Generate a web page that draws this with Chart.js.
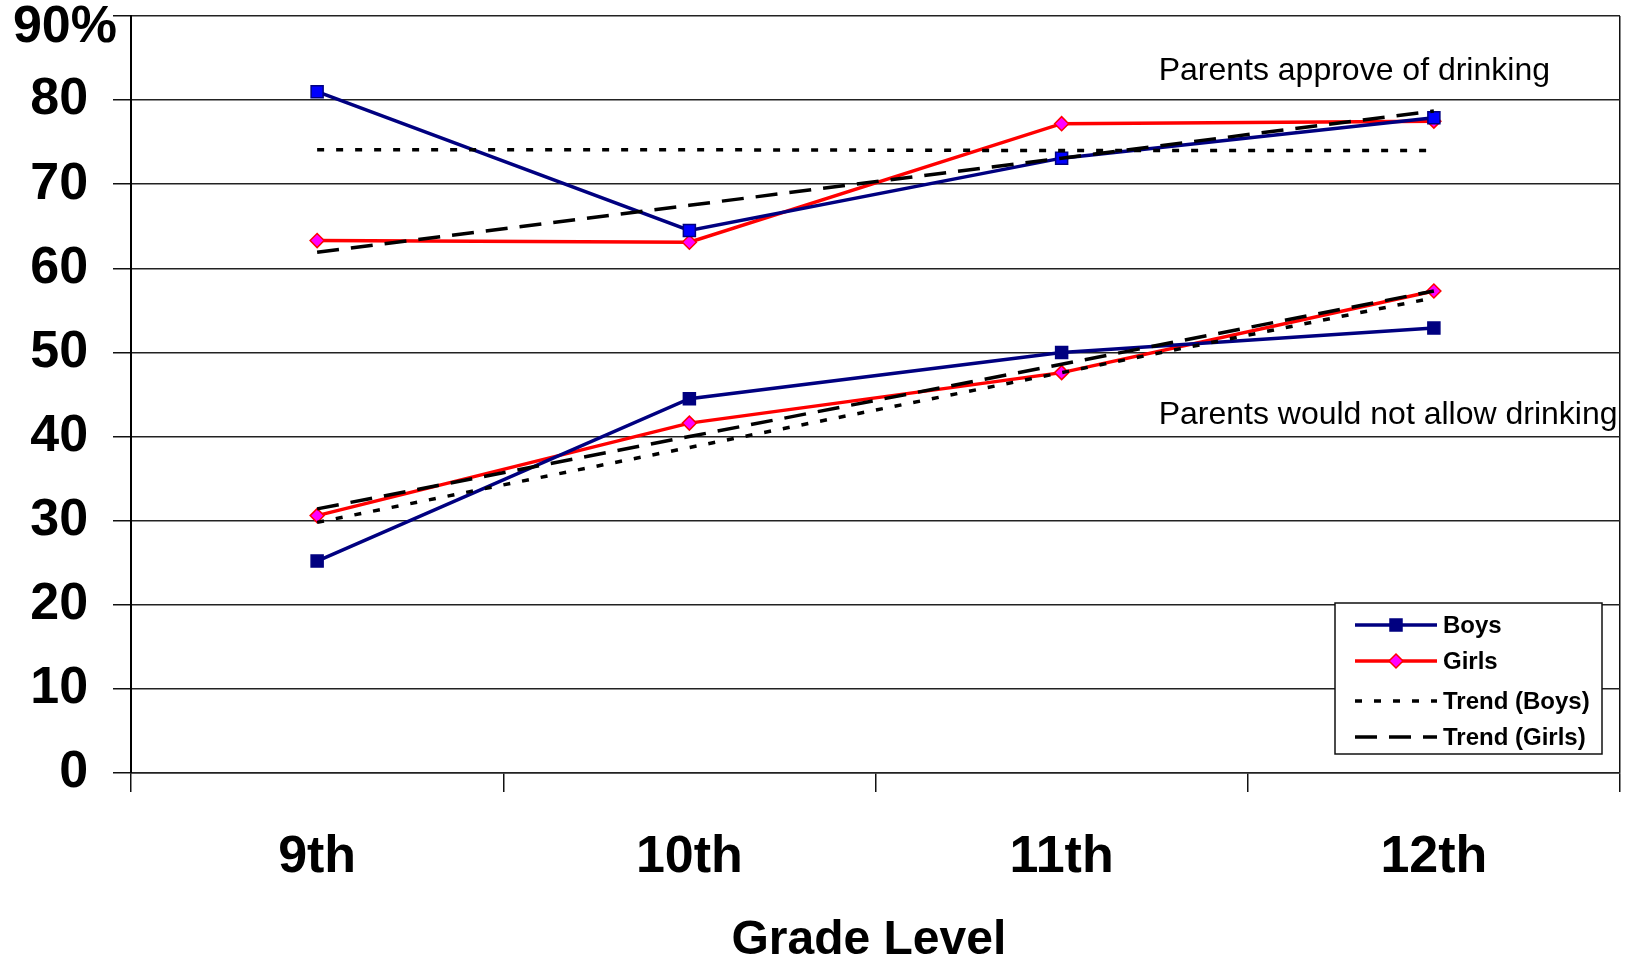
<!DOCTYPE html>
<html><head><meta charset="utf-8">
<script src="https://cdn.jsdelivr.net/npm/chart.js@4/dist/chart.umd.min.js"></script>
<style>html,body{margin:0;padding:0;background:#fff}#wrap{width:1630px;height:960px;position:relative}</style>
</head><body><div id="wrap"><canvas id="c" width="1630" height="960"></canvas></div>
<script>
const grades = ['9th', '10th', '11th', '12th'];
const boysApprove = [81.0, 64.5, 73.1, 77.9];
const girlsApprove = [63.3, 63.1, 77.2, 77.5];
const boysNotAllow = [25.2, 44.5, 50.0, 52.9];
const girlsNotAllow = [30.6, 41.6, 47.6, 57.3];
const trendBoysApprove = [74.1, 74.1, 74.0, 74.0];
const trendGirlsApprove = [61.9, 67.5, 73.1, 78.7];
const trendBoysNotAllow = [29.8, 38.7, 47.6, 56.5];
const trendGirlsNotAllow = [31.4, 40.0, 48.6, 57.3];
const yMin = 0, yMax = 90, yStep = 10;
const legendLabels = ['Boys', 'Girls', 'Trend (Boys)', 'Trend (Girls)'];
const noteApprove = 'Parents approve of drinking';
const noteNotAllow = 'Parents would not allow drinking';
const xTitle = 'Grade Level';

const FONT = '"Liberation Sans", Arial, Helvetica, sans-serif';
const navy = '#000080', blue = '#0000FF', red = '#FF0000', magenta = '#FF00FF';
const DOT = [7, 12], DASH = [22, 12];

function series(label, data, color, fill, border, style, radius) {
  return { label, data, borderColor: color, borderWidth: 3.5, pointStyle: style, pointRadius: radius,
    pointBackgroundColor: fill, pointBorderColor: border, pointBorderWidth: 1.5, tension: 0, fill: false };
}
function trend(label, data, dash) {
  return { label, data, borderColor: '#000', borderWidth: 3.5, borderDash: dash, borderCapStyle: 'butt',
    pointRadius: 0, fill: false, tension: 0 };
}

const notesPlugin = {
  id: 'notes',
  afterDatasetsDraw(chart) {
    const ctx = chart.ctx, sx = chart.scales.x, sy = chart.scales.y;
    ctx.save();
    ctx.font = '32px ' + FONT;
    ctx.fillStyle = '#000';
    ctx.textAlign = 'left';
    ctx.textBaseline = 'middle';
    const x = sx.getPixelForValue(2) + 97;
    ctx.fillText(noteApprove, x, sy.getPixelForValue(83.4));
    ctx.fillText(noteNotAllow, x, sy.getPixelForValue(42.6));
    ctx.restore();
  }
};

const legendPlugin = {
  id: 'boxLegend',
  afterDraw(chart) {
    const ctx = chart.ctx, a = chart.chartArea;
    const x0 = a.right - 285, y0 = a.bottom - 170, w = 267, h = 151;
    ctx.save();
    ctx.fillStyle = '#fff';
    ctx.fillRect(x0, y0, w, h);
    ctx.strokeStyle = '#111';
    ctx.lineWidth = 1.5;
    ctx.strokeRect(x0, y0, w, h);
    const rows = [22, 58, 98, 134];
    const lx0 = x0 + 20, lx1 = x0 + 102, mx = (lx0 + lx1) / 2;
    const styles = [
      { c: navy, dash: [], lw: 3.5 },
      { c: red, dash: [], lw: 3.5 },
      { c: '#000', dash: DOT, lw: 3.5 },
      { c: '#000', dash: DASH, lw: 3.5 }
    ];
    rows.forEach((dy, i) => {
      const y = y0 + dy, s = styles[i];
      ctx.beginPath();
      ctx.setLineDash(s.dash);
      ctx.strokeStyle = s.c;
      ctx.lineWidth = s.lw;
      ctx.moveTo(lx0, y); ctx.lineTo(lx1, y);
      ctx.stroke();
      ctx.setLineDash([]);
      if (i === 0) {
        ctx.fillStyle = navy; ctx.strokeStyle = navy; ctx.lineWidth = 1.5;
        ctx.fillRect(mx - 6, y - 6, 12, 12); ctx.strokeRect(mx - 6, y - 6, 12, 12);
      } else if (i === 1) {
        ctx.beginPath();
        ctx.moveTo(mx, y - 7); ctx.lineTo(mx + 7, y); ctx.lineTo(mx, y + 7); ctx.lineTo(mx - 7, y); ctx.closePath();
        ctx.fillStyle = magenta; ctx.fill(); ctx.strokeStyle = red; ctx.lineWidth = 1.5; ctx.stroke();
      }
      ctx.font = 'bold 24px ' + FONT;
      ctx.fillStyle = '#000';
      ctx.textAlign = 'left';
      ctx.textBaseline = 'middle';
      ctx.fillText(legendLabels[i], x0 + 108, y + 1);
    });
    ctx.restore();
  }
};

new Chart(document.getElementById('c'), {
  type: 'line',
  data: {
    labels: grades,
    datasets: [
      trend('Trend (Boys) approve', trendBoysApprove, DOT),
      trend('Trend (Girls) approve', trendGirlsApprove, DASH),
      trend('Trend (Boys) not allow', trendBoysNotAllow, DOT),
      trend('Trend (Girls) not allow', trendGirlsNotAllow, DASH),
      series('Boys approve', boysApprove, navy, blue, navy, 'rect', 8.5),
      series('Girls approve', girlsApprove, red, magenta, red, 'rectRot', 7),
      series('Boys not allow', boysNotAllow, navy, navy, navy, 'rect', 8.5),
      series('Girls not allow', girlsNotAllow, red, magenta, red, 'rectRot', 7)
    ]
  },
  options: {
    responsive: false,
    animation: false,
    devicePixelRatio: 1,
    layout: { padding: { top: 16, right: 9, left: 0, bottom: 0 } },
    plugins: { legend: { display: false }, tooltip: { enabled: false } },
    scales: {
      x: {
        type: 'category',
        offset: true,
        grid: {
          offset: true,
          drawOnChartArea: true,
          color: (c) => (c.type === 'tick' ? 'rgba(0,0,0,0)' : '#111'),
          tickColor: '#111',
          tickLength: 19,
          lineWidth: 1.5
        },
        border: { color: '#222', width: 1.5 },
        ticks: { font: { family: FONT, size: 52, weight: 'bold' }, color: '#000', padding: 34, maxRotation: 0 },
        title: { display: true, text: xTitle + ' ', color: '#000', padding: { top: 0, bottom: -5 },
          font: { family: FONT, size: 48, weight: 'bold', lineHeight: 1 } },
        afterFit(s) { s.height = 187; s.paddingLeft = 0; s.paddingRight = 0; }
      },
      y: {
        min: yMin, max: yMax,
        grid: { color: '#222', lineWidth: 1.5, tickLength: 18, tickColor: '#111' },
        border: { color: '#000', width: 2 },
        ticks: {
          stepSize: yStep,
          color: '#000',
          padding: -4,
          callback: (v) => (v === yMax ? ['', v + '%'] : v + '  '),
          font: (c) => ({ family: FONT, size: 52, weight: 'bold',
            lineHeight: (c.tick && c.tick.value === yMax) ? '24px' : 1.2 })
        },
        afterFit(s) { s.width = 131; s.paddingTop = 0; s.paddingBottom = 0; }
      }
    }
  },
  plugins: [notesPlugin, legendPlugin]
});
</script>
</body></html>
